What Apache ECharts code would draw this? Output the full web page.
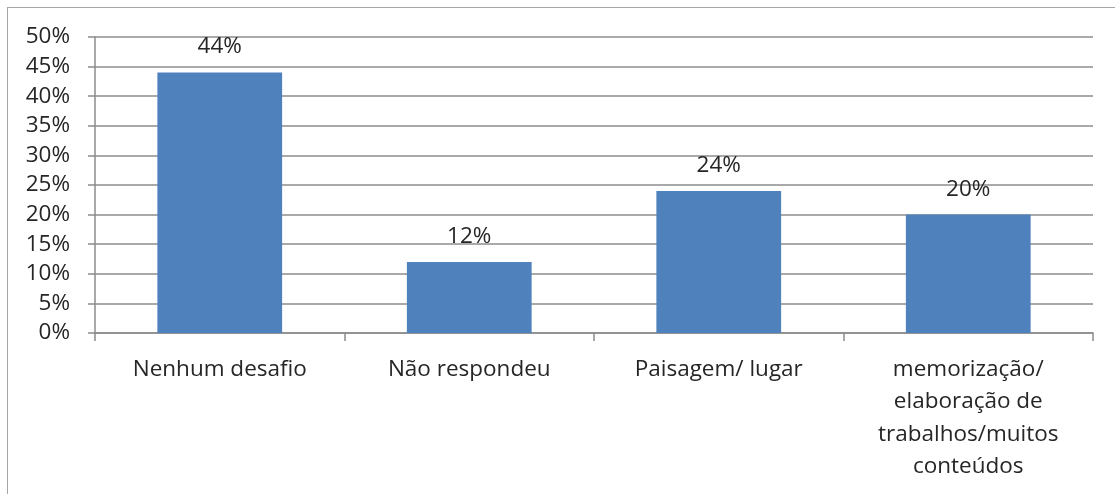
<!DOCTYPE html>
<html>
<head>
<meta charset="utf-8">
<script src="https://cdn.jsdelivr.net/npm/echarts@6/dist/echarts.min.js"></script>
<style>
html,body{margin:0;padding:0;background:#fff;}
#frame{position:absolute;left:7px;top:7px;width:1120px;height:500px;border:1.5px solid #a6a6a6;box-sizing:border-box;}
#chart{position:absolute;left:0;top:0;width:1115px;height:494px;}
</style>
</head>
<body>
<div id="frame"></div>
<div id="chart"></div>
<script>
const categories = ['Nenhum desafio', 'Não respondeu', 'Paisagem/ lugar', 'memorização/\nelaboração de\ntrabalhos/muitos\nconteúdos'];
const values = [44, 12, 24, 20];
const yTicks = { min: 0, max: 50, interval: 5 };

const font = '"Open Sans", "Noto Sans", sans-serif';
const chart = echarts.init(document.getElementById('chart'), null, { renderer: 'canvas' });
chart.setOption({
  animation: false,
  backgroundColor: 'transparent',
  grid: { left: 95, right: 22, top: 37, bottom: 161, containLabel: false },
  xAxis: {
    type: 'category',
    data: categories,
    axisLine: { show: true, lineStyle: { color: '#8c8c8c', width: 1.5 } },
    axisTick: { show: true, length: 8, lineStyle: { color: '#8c8c8c', width: 1.5 } },
    axisLabel: { color: '#262626', fontSize: 22.5, fontFamily: font, margin: 20, lineHeight: 32.5, interval: 0 },
    splitLine: { show: false }
  },
  yAxis: {
    type: 'value',
    min: yTicks.min, max: yTicks.max, interval: yTicks.interval,
    axisLine: { show: true, lineStyle: { color: '#8c8c8c', width: 1.5 } },
    axisTick: { show: true, length: 7, inside: false, lineStyle: { color: '#8c8c8c', width: 1.5 } },
    axisLabel: { color: '#262626', fontSize: 22.5, fontFamily: font, margin: 25, formatter: '{value}%' },
    splitLine: { show: true, lineStyle: { color: '#8c8c8c', width: 1.5 } }
  },
  series: [{
    type: 'bar',
    data: values,
    barWidth: '50%',
    itemStyle: { color: '#4f81bd' },
    label: { show: true, position: 'top', distance: 14, formatter: '{c}%', color: '#262626', fontSize: 22.5, fontFamily: font }
  }]
});
</script>
</body>
</html>
